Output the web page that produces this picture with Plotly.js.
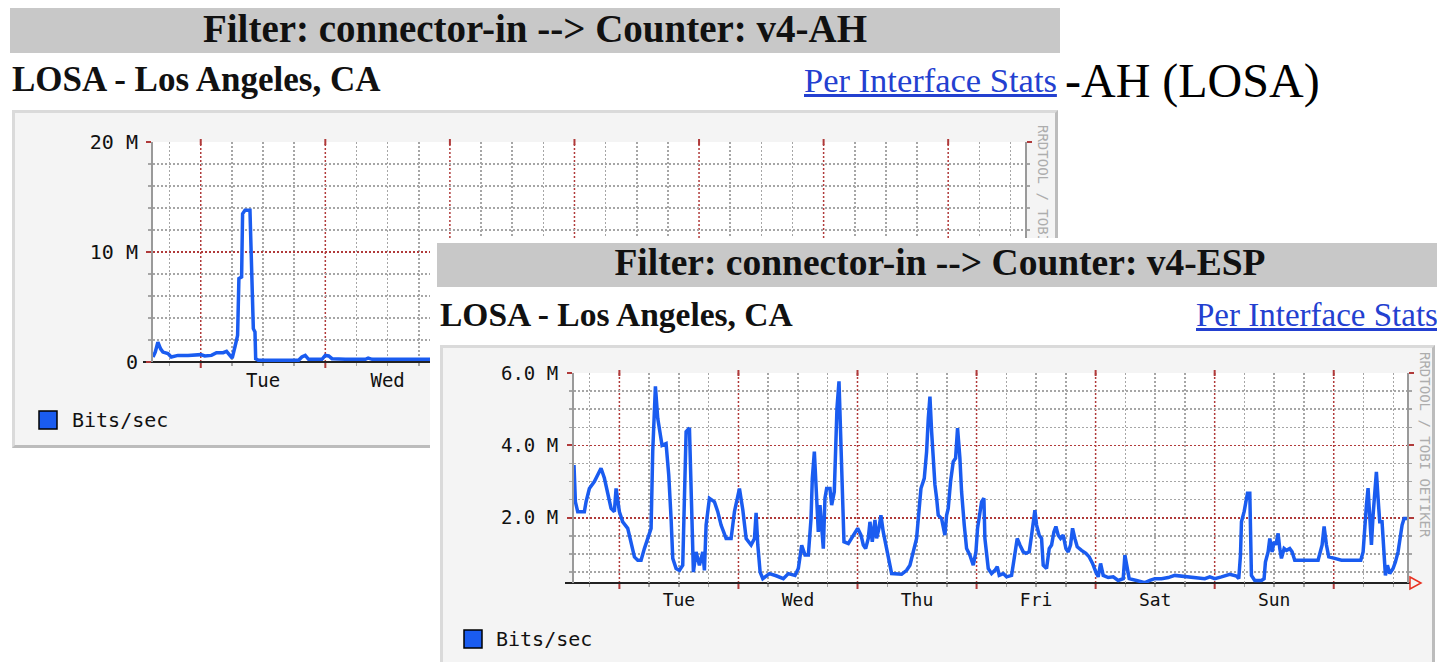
<!DOCTYPE html>
<html><head><meta charset="utf-8">
<script src="https://cdn.plot.ly/plotly-3.0.1.min.js"></script>
<style>
html,body{margin:0;padding:0;background:#fff;width:1437px;height:662px;overflow:hidden;position:relative;font-family:"Liberation Serif","Times New Roman",serif;}
.abs{position:absolute;white-space:nowrap;}
.bar{background:#c8c8c8;font-weight:bold;text-align:center;color:#111;}
.site{font-weight:bold;color:#111;}
.link{color:#2340d0;text-decoration:underline;}
.box{position:absolute;border:3px solid;border-color:#dadada #bcbcbc #bcbcbc #dadada;background:#f4f4f4;}
</style></head><body>
<div id="p1" class="abs" style="left:0;top:0;width:1437px;height:662px;">
  <div class="abs bar" style="left:10px;top:8px;width:1050px;height:45px;line-height:41px;font-size:39px;">Filter: connector-in --&gt; Counter: v4-AH</div>
  <div class="abs site" style="left:12px;top:58px;font-size:35px;line-height:44px;">LOSA - Los Angeles, CA</div>
  <div class="abs link" style="left:804px;top:58px;font-size:34.5px;line-height:44px;">Per Interface Stats</div>
  <div class="abs" style="left:1065px;top:53px;font-size:48px;line-height:56px;color:#000;">-AH (LOSA)</div>
  <div class="box" style="left:12px;top:110px;width:1040px;height:332px;"><div id="g1" style="width:1040px;height:332px;"></div></div>
</div>
<div id="p2" class="abs" style="left:430px;top:238px;width:1007px;height:424px;background:#fff;overflow:hidden;">
  <div class="abs bar" style="left:7px;top:5px;width:1006px;height:44px;line-height:40px;font-size:37.5px;">Filter: connector-in --&gt; Counter: v4-ESP</div>
  <div class="abs site" style="left:10px;top:56px;font-size:33.5px;line-height:42px;">LOSA - Los Angeles, CA</div>
  <div class="abs link" style="left:766px;top:56px;font-size:33px;line-height:42px;">Per Interface Stats</div>
  <div class="box" style="left:10px;top:107px;width:989px;height:330px;"><div id="g2" style="width:989px;height:330px;"></div></div>
</div>
<script>
// ---------------- data (hours since Monday 00:00, Mbit/s) ----------------
const dayLabels = ['Tue','Wed','Thu','Fri','Sat','Sun'];
const seriesName = 'Bits/sec';

const ahHours = [14.8,15.23,15.74,16.26,16.71,17.68,18.32,19.61,21.55,24.0,
  24.77,26.06,27.03,28.32,28.97,29.61,30.06,30.58,31.1,31.35,
  31.87,32.06,32.52,33.48,33.68,33.94,34.13,34.45,34.58,35.1,
  38.97,42.84,43.48,44.13,44.77,47.35,48.0,48.65,49.29,51.87,
  55.74,56.26,57.03,69.29];
const ahMbps = [0.45,0.9,1.8,1.2,0.9,0.76,0.45,0.6,0.6,0.67,
  0.55,0.6,0.85,0.85,0.97,0.6,0.36,1.36,2.42,7.58,
  7.73,13.48,13.79,13.79,9.7,6.36,3.03,2.73,0.3,0.15,
  0.15,0.15,0.45,0.6,0.24,0.24,0.6,0.55,0.3,0.24,
  0.24,0.36,0.24,0.24];

const espHours = [14.85,15.13,15.6,16.94,17.28,17.95,18.96,20.3,20.97,21.65,
  22.32,22.99,23.33,24.0,24.67,25.68,26.35,27.03,27.7,28.37,
  29.04,29.71,30.39,30.72,31.26,31.73,32.2,32.6,33.41,33.95,
  34.42,34.76,35.43,36.1,36.77,37.11,37.45,38.12,38.45,38.92,
  39.46,40.13,40.81,41.14,41.48,42.15,43.16,43.83,44.5,45.51,
  46.52,47.19,48.2,48.87,49.55,50.55,51.23,51.56,51.9,52.37,
  52.91,54.25,55.6,
  57.05,58.06,59.4,60.07,60.75,61.42,62.09,62.63,62.89,63.3,
  63.77,64.1,64.44,64.77,65.11,65.44,65.78,66.45,66.79,67.32,
  67.59,67.86,68.27,68.67,68.94,69.27,70.15,71.15,72.03,72.7,
  73.17,73.64,74.17,74.51,74.98,75.52,75.85,76.32,76.72,77.19,
  77.67,78.34,78.88,80.89,81.9,82.57,83.24,83.91,84.38,84.79,
  85.46,85.93,86.27,86.6,86.94,87.27,87.61,87.95,88.28,88.95,
  89.62,89.96,90.29,90.76,91.3,91.77,92.17,92.64,92.98,93.52,
  93.99,94.66,95.33,95.87,96.2,
  97.01,97.48,97.68,98.02,98.36,99.03,99.7,100.17,100.57,101.38,
  102.05,103.06,103.73,104.2,104.74,105.41,105.95,106.62,107.09,107.42,
  107.76,108.1,108.63,109.1,109.44,110.11,110.65,111.12,111.59,111.99,
  112.46,112.93,113.47,114.01,114.48,114.95,115.35,115.82,116.29,117.16,
  118.04,118.71,119.38,120.05,120.52,121.0,121.53,122.54,123.55,124.55,
  125.56,125.9,126.23,126.77,128.25,129.93,130.94,131.94,133.29,134.63,
  135.97,137.32,
  139.99,142.01,143.02,144.02,145.37,146.04,147.05,148.39,148.86,149.2,
  149.4,149.94,150.27,150.61,151.08,151.28,151.41,152.08,153.43,153.96,
  154.23,154.77,155.11,155.58,155.98,156.32,156.79,157.12,157.46,158.0,
  158.47,159.14,159.61,160.14,162.16,164.85,165.66,166.06,166.53,167.0,
  168.21,169.55,171.57,173.45,173.92,174.25,174.59,174.92,175.26,175.6,
  175.93,176.27,176.6,176.94,177.27,177.74,178.15,178.42,178.82,179.29,
  179.96,180.43,180.97,181.51,181.78,182.18,182.77];
const espMbps = [3.46,2.44,2.17,2.17,2.44,2.81,3.0,3.37,3.1,2.63,
  2.26,2.17,2.81,2.17,1.89,1.71,1.34,0.92,0.83,0.83,
  1.15,1.43,1.71,3.83,5.63,4.75,4.38,4.0,4.05,3.18,
  1.98,0.88,0.6,0.55,0.69,2.54,4.38,4.48,2.54,0.5,
  1.06,0.69,1.06,0.55,1.8,2.54,2.44,2.17,1.8,1.43,
  1.43,2.17,2.81,2.23,1.43,1.25,1.43,2.14,1.25,0.5,
  0.32,0.46,0.4,
  0.32,0.46,0.41,0.6,1.24,0.97,0.97,1.98,3.09,3.83,
  2.72,1.61,2.35,1.8,1.15,2.54,2.81,2.81,2.35,2.72,
  3.74,5.03,5.77,4.0,3.0,1.34,1.29,1.52,1.71,1.52,
  1.25,1.15,1.43,1.89,1.34,1.94,1.43,1.71,2.07,1.61,
  1.25,0.78,0.46,0.44,0.55,0.69,1.06,1.43,2.17,2.81,
  3.09,3.83,4.75,5.35,4.38,3.46,2.91,2.54,2.07,1.98,
  1.52,2.07,2.26,3.0,3.55,3.65,4.48,3.65,2.72,1.8,
  1.15,0.97,0.69,1.06,1.71,
  2.44,2.54,1.43,0.88,0.6,0.46,0.55,0.65,0.41,0.46,
  0.37,0.41,0.97,1.43,1.25,1.06,1.02,1.06,1.52,1.89,
  2.21,1.8,1.52,1.43,0.69,0.6,1.15,1.25,1.61,1.76,
  1.52,1.43,1.52,1.15,1.06,1.25,1.71,1.43,1.2,1.1,
  1.02,0.92,0.74,0.5,0.37,0.74,0.41,0.35,0.37,0.27,
  0.32,0.97,0.69,0.32,0.27,0.21,0.27,0.32,0.32,0.35,
  0.41,0.39,
  0.35,0.32,0.37,0.32,0.37,0.39,0.44,0.39,0.32,0.97,
  1.89,2.17,2.44,2.68,2.68,1.52,0.41,0.27,0.27,0.32,
  0.78,1.06,1.43,1.06,1.34,1.25,1.57,1.15,0.88,1.15,
  1.1,1.15,1.06,0.83,0.83,0.83,1.25,1.76,1.25,0.92,
  0.88,0.83,0.83,0.83,1.06,1.89,2.35,2.82,1.89,1.25,
  2.07,2.72,3.27,2.54,1.89,1.89,0.97,0.41,0.69,0.46,
  0.6,0.78,1.06,1.52,1.8,1.98,1.98];

const ahYTicks = [0,10,20], ahYText = ['0','10 M','20 M'];
const espYTicks = [2,4,6], espYText = ['2.0 M','4.0 M','6.0 M'];

// ---------------- styling / layout ----------------
const MAJOR = '#b03a3a', MINOR = '#a6a6a6', BLUE = '#1a5cf0', MONO = 'DejaVu Sans Mono';
function seq(a,b,s){const r=[];for(let v=a;v<=b+1e-9;v+=s)r.push(+v.toFixed(3));return r;}
const midnights = seq(24,168,24);               // major (day) grid
const noons = seq(36,156,24);                    // day labels sit at noon
const sixHours = seq(18,180,6).filter(h=>h%24!==0); // minor grid

function draw(id, g, xs, ys, c){
  const P=(x,y)=>[(x-g.left)/(g.right-g.left),(g.bottom-y)/(g.bottom-g.top)];
  const toPx=h=>g.left+(h-c.xr[0])*(g.right-g.left)/(c.xr[1]-c.xr[0]);
  const dash='2px,2px';
  const ph=g.bottom-g.top;
  // only label the days that are not covered by the overlapping panel
  const lblIdx=noons.map((h,i)=>i).filter(i=>toPx(noons[i])<c.visibleTo);
  const lg0=P(c.leg[0],c.leg[1]), lg1=P(c.leg[0]+18,c.leg[1]+18), lt=P(c.legText[0],c.legText[1]);
  const rr=P(c.rrd[0],c.rrd[1]);
  const shapes=[];
  midnights.forEach(h=>{
    shapes.push({type:'line',xref:'x',yref:'paper',x0:h,x1:h,y0:0,y1:1,line:{color:MAJOR,width:1.5,dash:dash},layer:'between'});
    shapes.push({type:'line',xref:'x',yref:'paper',x0:h,x1:h,y0:-6/ph,y1:0,line:{color:MAJOR,width:2},layer:'between'});
    shapes.push({type:'line',xref:'x',yref:'paper',x0:h,x1:h,y0:1-3/ph,y1:1+3/ph,line:{color:MAJOR,width:2},layer:'between'});
  });
  shapes.push({type:'line',xref:'paper',yref:'paper',x0:P(c.base[0],0)[0],x1:P(c.base[1],0)[0],y0:0,y1:0,line:{color:'#222',width:2},layer:'between'});
  shapes.push({type:'rect',xref:'paper',yref:'paper',x0:lg0[0],x1:lg1[0],y0:lg1[1],y1:lg0[1],fillcolor:BLUE,line:{color:'#000',width:1.5}});
  if(c.arrow){
    const a=P(c.arrow[0],g.bottom-6),b=P(c.arrow[0]+11,g.bottom),d=P(c.arrow[0],g.bottom+6);
    shapes.push({type:'path',xref:'paper',yref:'paper',path:`M${a[0]},${a[1]} L${b[0]},${b[1]} L${d[0]},${d[1]} Z`,line:{color:'#e83020',width:1.5},fillcolor:'rgba(255,255,255,0)'});
  }
  const trace={x:xs,y:ys,type:'scatter',mode:'lines',name:seriesName,line:{color:BLUE,width:3.5},hoverinfo:'skip',showlegend:false};
  const layout={
    width:g.W,height:g.H,
    margin:{l:g.left-g.ox,r:g.ox+g.W-g.right,t:g.top-g.oy,b:g.oy+g.H-g.bottom,pad:0},
    paper_bgcolor:'#f4f4f4',plot_bgcolor:'#ffffff',showlegend:false,
    font:{family:MONO,color:'#111'},
    xaxis:{range:c.xr,tickmode:'array',tickvals:lblIdx.map(i=>noons[i]),ticktext:lblIdx.map(i=>dayLabels[i]),
      ticks:'',ticklabelstandoff:c.xStand,showgrid:false,
      tickfont:{family:MONO,size:c.xFont,color:'#111'},mirror:'ticks',
      minor:{tickmode:'array',tickvals:sixHours,showgrid:true,gridcolor:MINOR,griddash:dash,gridwidth:1.5,ticks:'outside',ticklen:3,tickwidth:1.5,tickcolor:MINOR},
      showline:false,zeroline:false,fixedrange:true},
    yaxis:{range:c.yr,tickmode:'array',tickvals:c.yTicks,ticktext:c.yText,
      showgrid:true,gridcolor:MAJOR,griddash:dash,gridwidth:1.5,
      ticks:'outside',ticklen:5,tickwidth:2,tickcolor:MAJOR,
      minor:{tickmode:'array',tickvals:c.yMinor,showgrid:true,gridcolor:MINOR,griddash:dash,gridwidth:1.5,ticks:'outside',ticklen:3,tickwidth:1.5,tickcolor:MINOR},
      showline:true,linecolor:'#9a9a9a',linewidth:2,mirror:'ticks',zeroline:false,
      ticklabelstandoff:c.yStand,tickfont:{family:MONO,size:c.yFont,color:'#111'},fixedrange:true},
    shapes:shapes,
    annotations:[
      {xref:'paper',yref:'paper',x:lt[0],y:lt[1],xanchor:'left',yanchor:'middle',text:seriesName,showarrow:false,font:{family:MONO,size:20,color:'#111'}},
      {xref:'paper',yref:'paper',x:rr[0],y:rr[1],xanchor:'center',yanchor:'middle',text:'RRDTOOL / TOBI OETIKER',textangle:90,showarrow:false,font:{family:MONO,size:14,color:'#adadad'}}
    ]
  };
  Plotly.newPlot(id,[trace],layout,{staticPlot:true,displayModeBar:false});
}

draw('g1',{W:1040,H:332,ox:15,oy:113,left:153,right:1025,top:142,bottom:362},ahHours,ahMbps,{
  xr:[14.8,182.8],yr:[0,20],yTicks:ahYTicks,yText:ahYText,yMinor:[2,4,6,8,12,14,16,18],visibleTo:430,
  yFont:20,xFont:19,yStand:4,xStand:5,leg:[39,411],legText:[70,420],rrd:[1043,218],base:[143,1025],arrow:null});

draw('g2',{W:989,H:330,ox:443,oy:348,left:574,right:1407,top:373,bottom:583},espHours,espMbps,{
  xr:[14.85,182.77],yr:[0.2,6.0],yTicks:espYTicks,yText:espYText,yMinor:[0.5,1,1.5,2.5,3,3.5,4.5,5,5.5],visibleTo:1437,
  yFont:19,xFont:18,yStand:5,xStand:4,leg:[464,630],legText:[494,639],rrd:[1425,445],base:[565,1410],arrow:[1410]});
</script>
</body></html>
